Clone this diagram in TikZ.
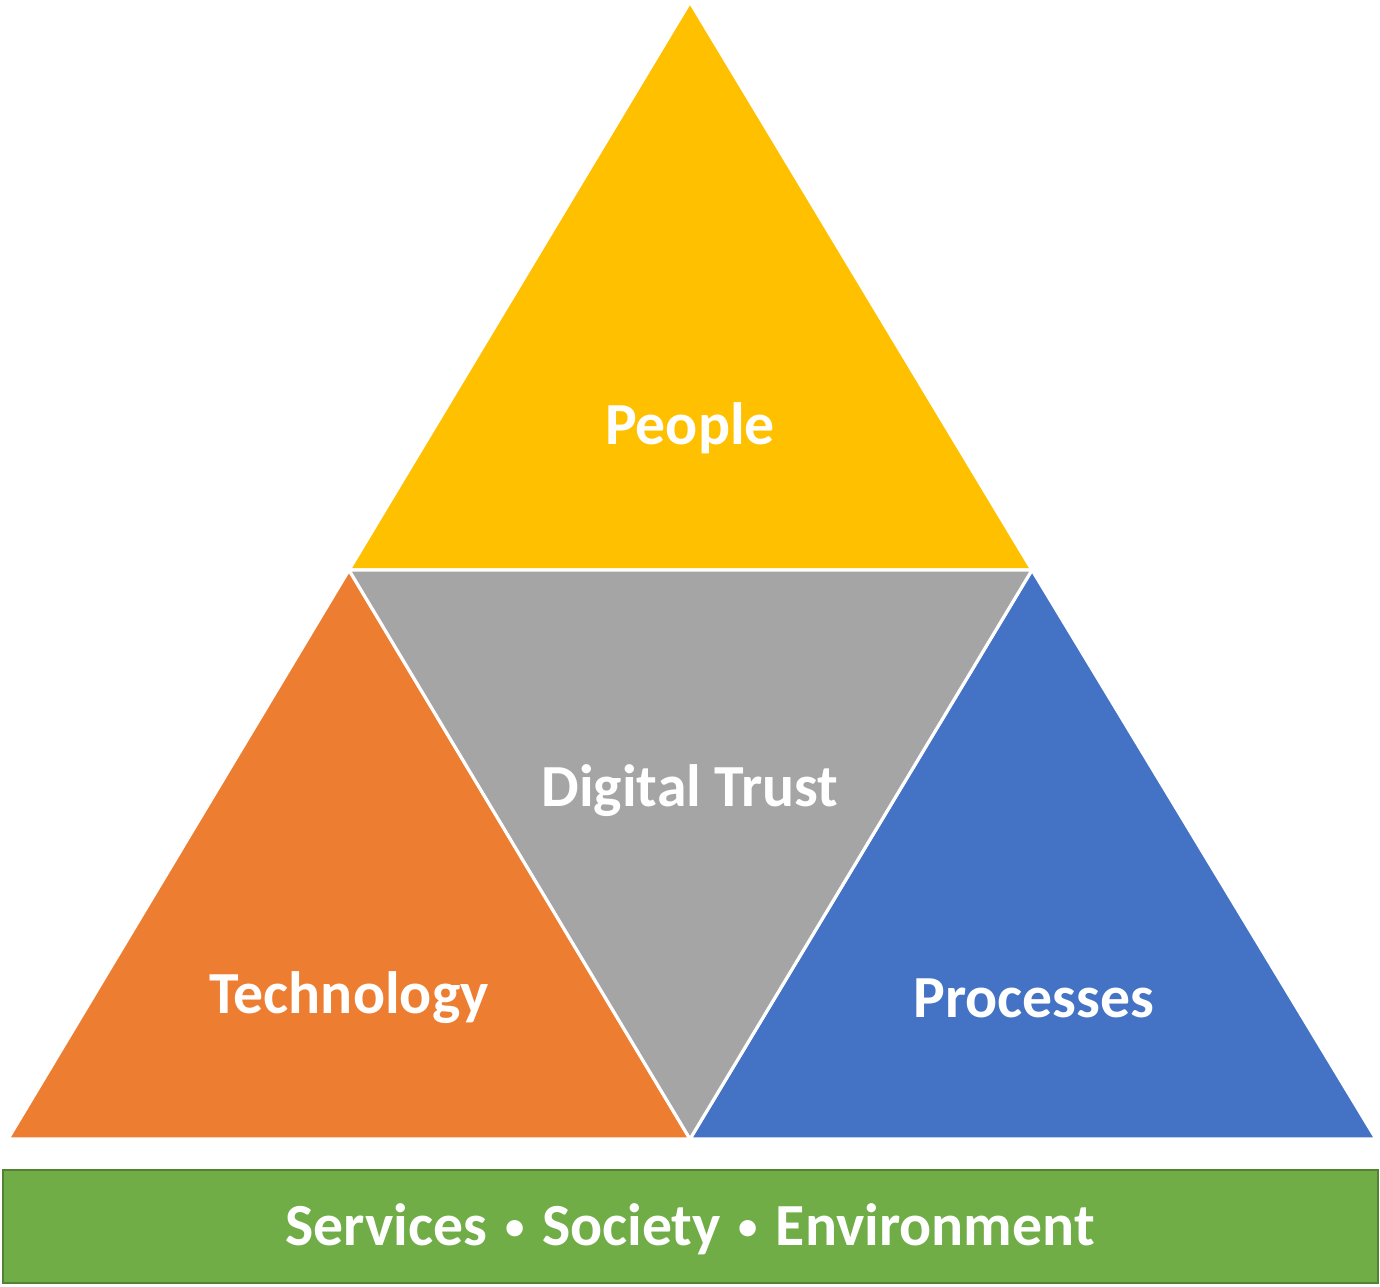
\documentclass[tikz,border=0pt]{standalone}
\usepackage{fontspec}
\setmainfont{Carlito}
\usepackage{tikz}

\definecolor{peopleyellow}{HTML}{FFC000}
\definecolor{techorange}{HTML}{ED7D31}
\definecolor{trustgray}{HTML}{A5A5A5}
\definecolor{procblue}{HTML}{4472C4}
\definecolor{basegreen}{HTML}{70AD47}
\definecolor{baseedge}{HTML}{548235}
\newcommand{\smallbul}{\hspace{2.5pt}\raisebox{3.5pt}{\fontsize{22}{22}\selectfont •}\hspace{2.5pt}}

\begin{document}
\begin{tikzpicture}[x=0.02cm, y={(0,-0.02cm)}, tri/.style={draw=white, line width=1.8pt, line join=miter}, lbl/.style={text=white, font=\fontsize{34}{41}\selectfont\bfseries, inner sep=0pt}]
  \useasboundingbox (0,0) rectangle (1380,1286);
  \coordinate (top) at (690,2);
  \coordinate (ml) at (349,570);
  \coordinate (mr) at (1032,570);
  \coordinate (bl) at (8,1139);
  \coordinate (bm) at (690,1139);
  \coordinate (br) at (1376,1139);
  \filldraw[tri, fill=peopleyellow] (top)--(mr)--(ml)--cycle;
  \filldraw[tri, fill=techorange] (ml)--(bm)--(bl)--cycle;
  \filldraw[tri, fill=procblue] (mr)--(br)--(bm)--cycle;
  \filldraw[tri, fill=trustgray] (ml)--(mr)--(bm)--cycle;
  \filldraw[fill=basegreen, draw=baseedge, line width=1.2pt] (3,1170) rectangle (1378,1283);
  \node[lbl] (people) at (690,428) {People};
  \node[lbl] (trust) at (690,791) {Digital Trust};
  \node[lbl] (tech) at (349,998) {Technology};
  \node[lbl] (proc) at (1034,998) {Processes};
  \node[lbl] (base) at (690,1229) {Services \smallbul{} Society \smallbul{} Environment};
\end{tikzpicture}
\end{document}
